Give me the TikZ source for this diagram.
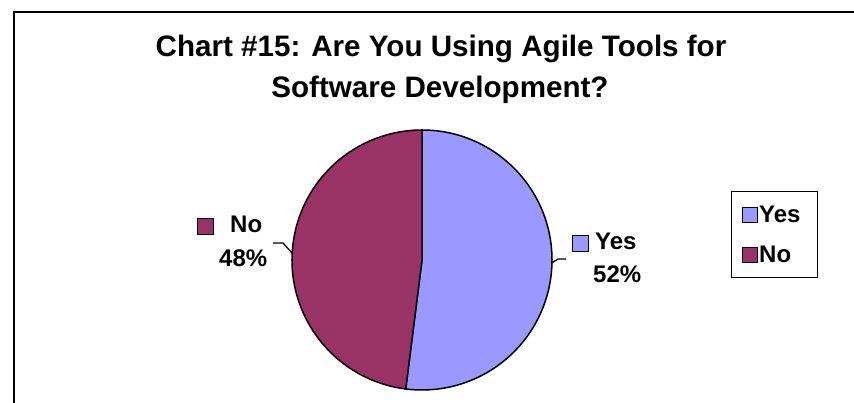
\documentclass[tikz,border=0pt]{standalone}
\usepackage{fontspec}
\setmainfont{Liberation Sans}
\usetikzlibrary{calc}
\definecolor{yescol}{HTML}{9999FF}
\definecolor{nocol}{HTML}{993366}
\begin{document}
\begin{tikzpicture}[x=1pt,y=1pt,
  ttl/.style={inner sep=0pt,anchor=base,font=\fontsize{29.6}{33}\selectfont\bfseries},
  lbl/.style={inner sep=0pt,anchor=base west,font=\fontsize{24}{28}\selectfont\bfseries},
  swatch/.style={draw=black,line width=1.2pt},
  slice/.style={draw=black,line width=1.5pt,line join=round},
  leader/.style={draw=black,line width=1.3pt}]
\useasboundingbox (0,0) rectangle (854,403);
\fill[white] (0,0) rectangle (854,403);
% frame
\draw[line width=2pt] (13.5,-5) -- (13.5,391) -- (860,391);
% title
\node[ttl] (t1) at (441,346) {Chart \#15: Are You Using Agile Tools for};
\node[ttl] (t2) at (440,305) {Software Development?};
% pie
\coordinate (c) at (422,143);
\filldraw[slice,fill=yescol] (c) -- ++(90:130) arc (90:-97.2:130) -- cycle;
\filldraw[slice,fill=nocol] (c) -- ++(-97.2:130) arc (-97.2:-270:130) -- cycle;
% data labels
\coordinate (pno) at ($(c)+(177:130)$);
\coordinate (pyes) at ($(c)+(-1.3:130)$);
\draw[leader] (273,160) -- (283,160) -- (pno);
\draw[leader] (pyes) -- (558,144) -- (566,144);
\node[swatch,fill=nocol,minimum size=16pt,inner sep=0pt,anchor=south west] (sqno) at (197,168) {};
\node[lbl] (lno) at (230,170) {No};
\node[lbl] (pctno) at (219,136) {48\%};
\node[swatch,fill=yescol,minimum size=16pt,inner sep=0pt,anchor=south west] (sqyes) at (572,151) {};
\node[lbl] (lyes) at (595,153) {Yes};
\node[lbl] (pctyes) at (593,120) {52\%};
% legend
\node[draw=black,line width=1.2pt,minimum width=86pt,minimum height=86pt,inner sep=0pt,anchor=south west] (leg) at (731,125) {};
\node[swatch,fill=yescol,minimum size=15pt,inner sep=0pt,anchor=south west] (lsqyes) at (742,180) {};
\node[lbl] (legyes) at (759,180) {Yes};
\node[swatch,fill=nocol,minimum size=15pt,inner sep=0pt,anchor=south west] (lsqno) at (742,140) {};
\node[lbl] (legno) at (759,140) {No};
\end{tikzpicture}
\end{document}
